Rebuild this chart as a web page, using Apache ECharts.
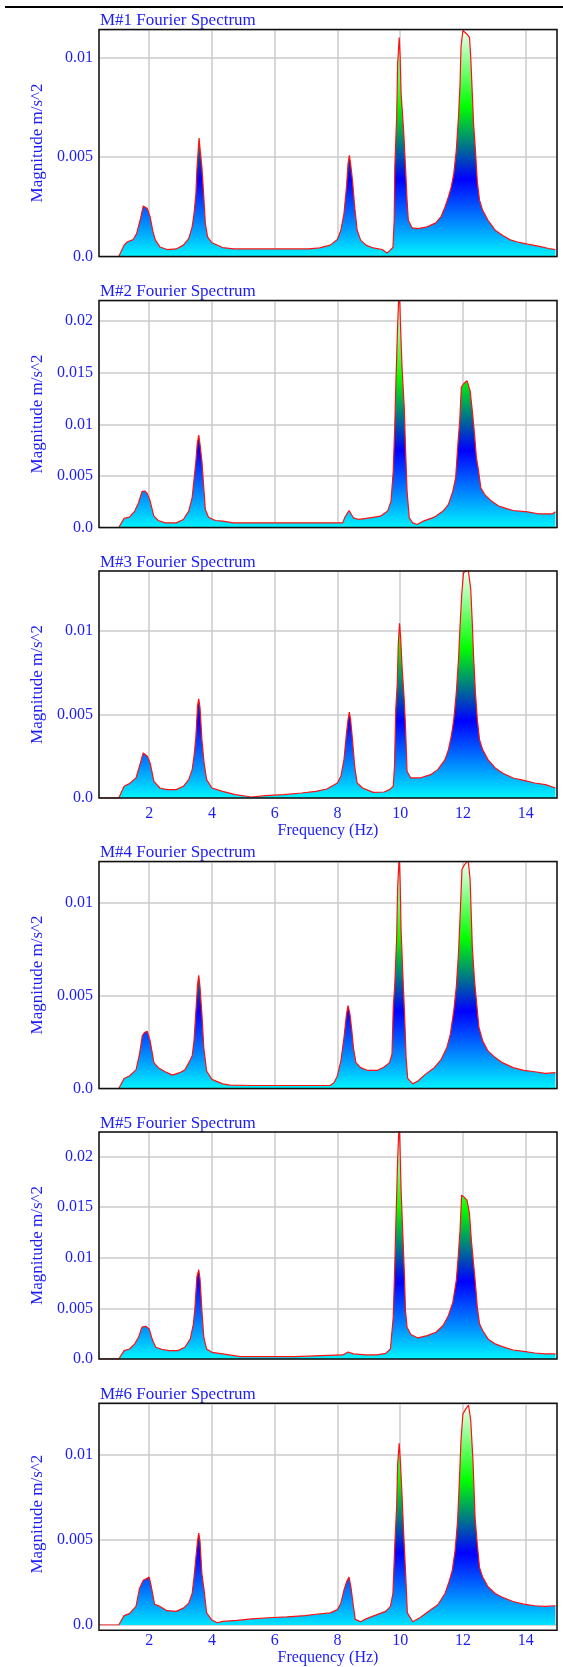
<!DOCTYPE html>
<html>
<head>
<meta charset="utf-8">
<script src="https://cdn.jsdelivr.net/npm/echarts@6/dist/echarts.min.js"></script>
<style>
html,body{margin:0;padding:0;background:#fff;}
#c{width:563px;height:1667px;}
</style>
</head>
<body>
<div id="c"></div>
<script>
// ---- data: [frequency Hz, magnitude m/s^2] ----
const titles = ['M#1 Fourier Spectrum','M#2 Fourier Spectrum','M#3 Fourier Spectrum','M#4 Fourier Spectrum','M#5 Fourier Spectrum','M#6 Fourier Spectrum'];
const yMaxes = [0.0114, 0.022, 0.0136, 0.0122, 0.0224, 0.013];
const xLabelPlots = [2, 5];

const m1 = [[0.4,0],[1.03,0],[1.2,0.00057],[1.31,0.00074],[1.49,0.00085],[1.6,0.00115],[1.71,0.00182],[1.81,0.00254],[1.94,0.00241],[2.03,0.00199],[2.11,0.00132],[2.19,0.00085],[2.34,0.00048],[2.57,0.00035],[2.86,0.00038],[3.09,0.00057],[3.26,0.0009],[3.37,0.00149],[3.43,0.00216],[3.49,0.00316],[3.52,0.00433],[3.57,0.0055],[3.59,0.00595],[3.62,0.00542],[3.68,0.0045],[3.74,0.003],[3.79,0.00166],[3.86,0.00099],[4.0,0.00069],[4.34,0.00045],[4.69,0.00038],[5.26,0.00038],[7.09,0.00038],[7.43,0.00043],[7.77,0.00057],[8.0,0.00085],[8.11,0.00132],[8.21,0.00216],[8.29,0.0035],[8.34,0.00467],[8.38,0.00508],[8.42,0.00467],[8.48,0.00383],[8.55,0.00249],[8.63,0.00132],[8.74,0.00082],[8.91,0.00057],[9.14,0.00043],[9.43,0.00035],[9.58,0.00018],[9.66,0.00028],[9.77,0.00045],[9.81,0.00182],[9.83,0.0045],[9.89,0.007],[9.92,0.00968],[9.97,0.011],[10.0,0.01],[10.03,0.00818],[10.11,0.00634],[10.17,0.0045],[10.22,0.00283],[10.26,0.00182],[10.38,0.00144],[10.57,0.0014],[10.86,0.00149],[11.14,0.00169],[11.31,0.00202],[11.43,0.00249],[11.54,0.003],[11.63,0.0035],[11.71,0.00416],[11.79,0.00533],[11.86,0.007],[11.91,0.00868],[11.94,0.01052],[12.0,0.01135],[12.11,0.0112],[12.21,0.011],[12.25,0.01],[12.3,0.00818],[12.34,0.00667],[12.4,0.00533],[12.46,0.00375],[12.53,0.00283],[12.63,0.00232],[12.8,0.00182],[13.03,0.00132],[13.26,0.00107],[13.49,0.00085],[13.71,0.00074],[14.06,0.00062],[14.4,0.00052],[14.74,0.0004],[14.95,0.00035]];

const m2 = [[0.4,0],[1.03,0],[1.2,0.00088],[1.37,0.001],[1.54,0.00159],[1.66,0.0024],[1.77,0.00347],[1.86,0.00354],[1.94,0.00328],[2.03,0.00256],[2.15,0.0011],[2.29,0.00068],[2.51,0.00045],[2.86,0.00045],[3.09,0.00078],[3.26,0.00159],[3.37,0.00289],[3.43,0.00467],[3.49,0.00645],[3.53,0.00807],[3.58,0.00895],[3.62,0.00807],[3.68,0.00645],[3.74,0.00386],[3.79,0.00175],[3.89,0.001],[4.11,0.00068],[4.34,0.00062],[4.69,0.00045],[8.17,0.00045],[8.23,0.00094],[8.37,0.00165],[8.51,0.00094],[8.69,0.00078],[9.03,0.00094],[9.37,0.0011],[9.6,0.00159],[9.71,0.00256],[9.78,0.00548],[9.83,0.01],[9.87,0.01456],[9.92,0.0196],[9.97,0.0235],[10.01,0.0197],[10.06,0.01553],[10.13,0.01164],[10.17,0.00775],[10.22,0.00353],[10.29,0.00094],[10.4,0.00045],[10.54,0.00029],[10.74,0.00062],[11.09,0.001],[11.37,0.00159],[11.54,0.00224],[11.68,0.00353],[11.77,0.00483],[11.84,0.00807],[11.9,0.01035],[11.95,0.01359],[12.02,0.01391],[12.13,0.01424],[12.23,0.01326],[12.3,0.01132],[12.37,0.00905],[12.43,0.00678],[12.5,0.00548],[12.57,0.00386],[12.69,0.00321],[12.91,0.00256],[13.14,0.00208],[13.37,0.00185],[13.6,0.00165],[14.06,0.00152],[14.4,0.00133],[14.86,0.00133],[14.95,0.00152]];

const m3 = [[0.4,0],[1.03,0],[1.2,0.0007],[1.37,0.00086],[1.58,0.0012],[1.69,0.0019],[1.81,0.0027],[1.94,0.0025],[2.03,0.0021],[2.15,0.001],[2.34,0.0006],[2.57,0.0005],[2.86,0.0005],[3.09,0.0007],[3.26,0.0011],[3.37,0.0017],[3.43,0.0025],[3.49,0.0037],[3.54,0.0055],[3.58,0.00594],[3.62,0.0054],[3.68,0.0035],[3.75,0.0021],[3.83,0.0011],[4.0,0.0006],[4.34,0.0004],[4.74,0.0002],[5.26,0.00006],[5.71,0.00014],[6.29,0.0002],[6.86,0.0003],[7.31,0.0004],[7.66,0.00054],[8.0,0.0009],[8.11,0.0013],[8.21,0.0023],[8.29,0.0039],[8.34,0.0047],[8.38,0.00514],[8.42,0.0047],[8.48,0.0035],[8.55,0.0019],[8.63,0.0009],[8.8,0.0006],[9.14,0.00034],[9.49,0.00036],[9.66,0.0005],[9.78,0.0007],[9.82,0.0019],[9.86,0.0053],[9.91,0.0069],[9.94,0.0092],[9.98,0.01046],[10.02,0.0095],[10.06,0.0079],[10.13,0.0059],[10.17,0.0043],[10.22,0.0016],[10.34,0.0012],[10.63,0.0012],[10.97,0.0014],[11.2,0.0017],[11.43,0.0023],[11.54,0.0029],[11.63,0.0037],[11.71,0.0047],[11.79,0.0063],[11.86,0.0083],[11.91,0.0103],[11.96,0.0121],[12.02,0.0135],[12.17,0.0137],[12.25,0.0125],[12.3,0.0105],[12.34,0.0085],[12.4,0.0063],[12.46,0.0047],[12.53,0.0035],[12.63,0.0029],[12.8,0.0023],[13.03,0.0018],[13.26,0.0015],[13.6,0.0012],[13.94,0.00106],[14.29,0.0009],[14.63,0.0008],[14.95,0.0006]];

const m4 = [[0.4,0],[1.03,0],[1.2,0.00054],[1.37,0.00067],[1.58,0.001],[1.69,0.00184],[1.78,0.00283],[1.85,0.00301],[1.94,0.00307],[2.03,0.00256],[2.15,0.00139],[2.29,0.00112],[2.51,0.0009],[2.74,0.00072],[2.97,0.00085],[3.14,0.001],[3.29,0.00148],[3.37,0.00175],[3.43,0.00256],[3.49,0.00419],[3.54,0.00554],[3.58,0.00608],[3.62,0.00545],[3.68,0.004],[3.74,0.0022],[3.83,0.00094],[4.0,0.00049],[4.34,0.00025],[4.57,0.00018],[5.26,0.00016],[7.77,0.00016],[7.89,0.00031],[8.0,0.00067],[8.11,0.00148],[8.21,0.00274],[8.29,0.004],[8.34,0.00446],[8.4,0.004],[8.46,0.0031],[8.51,0.0022],[8.59,0.00139],[8.74,0.00112],[8.97,0.00097],[9.26,0.00097],[9.49,0.00116],[9.66,0.00139],[9.74,0.00184],[9.78,0.00437],[9.83,0.00563],[9.89,0.00816],[9.92,0.01078],[9.97,0.0125],[10.0,0.011],[10.03,0.00852],[10.08,0.00635],[10.14,0.004],[10.19,0.00166],[10.24,0.00054],[10.4,0.00025],[10.57,0.0004],[10.8,0.00076],[11.09,0.00112],[11.31,0.00157],[11.49,0.0022],[11.6,0.00292],[11.71,0.00419],[11.79,0.00545],[11.86,0.00726],[11.92,0.0096],[11.97,0.01177],[12.04,0.012],[12.17,0.01225],[12.23,0.01123],[12.3,0.00762],[12.37,0.00581],[12.43,0.00473],[12.51,0.00329],[12.63,0.00256],[12.8,0.00202],[13.03,0.00166],[13.26,0.00139],[13.6,0.00112],[13.94,0.00097],[14.29,0.0009],[14.63,0.00081],[14.95,0.00085]];

const m5 = [[0.4,0],[1.03,0],[1.2,0.00083],[1.37,0.00099],[1.54,0.00149],[1.66,0.00215],[1.77,0.00314],[1.89,0.00323],[2.0,0.00297],[2.11,0.00182],[2.21,0.00116],[2.4,0.00096],[2.63,0.00083],[2.91,0.00083],[3.14,0.00116],[3.31,0.00198],[3.41,0.00347],[3.46,0.00512],[3.52,0.00809],[3.58,0.00881],[3.62,0.00792],[3.68,0.00479],[3.74,0.00215],[3.83,0.00099],[4.0,0.00066],[4.34,0.0005],[4.91,0.00023],[6.63,0.00023],[6.69,0.0004],[8.17,0.0004],[8.34,0.00069],[8.51,0.0005],[8.91,0.0004],[9.26,0.0004],[9.54,0.00056],[9.69,0.00099],[9.78,0.00413],[9.83,0.0094],[9.87,0.014],[9.92,0.01964],[9.97,0.0235],[10.0,0.0203],[10.03,0.01667],[10.08,0.01271],[10.13,0.00875],[10.17,0.0048],[10.22,0.00314],[10.34,0.00241],[10.57,0.00208],[10.86,0.00231],[11.14,0.00264],[11.37,0.0033],[11.54,0.00429],[11.68,0.00561],[11.79,0.00776],[11.85,0.01007],[11.91,0.01271],[11.96,0.01617],[12.03,0.016],[12.13,0.01568],[12.21,0.01436],[12.27,0.01172],[12.34,0.0094],[12.4,0.00743],[12.46,0.00512],[12.53,0.00347],[12.63,0.00281],[12.8,0.00198],[13.03,0.00149],[13.26,0.00122],[13.6,0.00089],[13.94,0.00076],[14.29,0.00059],[14.63,0.0005],[14.95,0.0005]];

const m6 = [[0.4,0],[1.03,0],[1.2,0.00055],[1.37,0.00067],[1.58,0.00109],[1.69,0.00214],[1.81,0.00262],[1.92,0.00272],[2.0,0.00281],[2.06,0.00233],[2.17,0.00122],[2.34,0.00109],[2.57,0.00084],[2.86,0.0008],[3.09,0.00099],[3.26,0.00128],[3.37,0.00185],[3.43,0.00281],[3.49,0.00396],[3.54,0.00491],[3.58,0.00539],[3.62,0.00491],[3.68,0.003],[3.75,0.00205],[3.83,0.00071],[4.0,0.00029],[4.17,0.00013],[4.34,0.00021],[4.8,0.00027],[5.26,0.00036],[5.94,0.00044],[6.4,0.00048],[6.97,0.00055],[7.31,0.00063],[7.77,0.00071],[8.0,0.0009],[8.11,0.00128],[8.21,0.00205],[8.29,0.00252],[8.37,0.00281],[8.43,0.00224],[8.51,0.00109],[8.57,0.00033],[8.74,0.00019],[8.91,0.00036],[9.26,0.00061],[9.54,0.0008],[9.69,0.00109],[9.77,0.00185],[9.83,0.00472],[9.89,0.00702],[9.92,0.00941],[9.97,0.01065],[10.01,0.0095],[10.06,0.00759],[10.11,0.00549],[10.17,0.00319],[10.23,0.00071],[10.4,0.00019],[10.63,0.00042],[10.91,0.0008],[11.2,0.00119],[11.43,0.00185],[11.54,0.00243],[11.66,0.00319],[11.75,0.00434],[11.83,0.00606],[11.89,0.00855],[11.94,0.01084],[12.0,0.01237],[12.09,0.01266],[12.18,0.0129],[12.25,0.01199],[12.32,0.00969],[12.39,0.00625],[12.46,0.00472],[12.53,0.00338],[12.63,0.00281],[12.8,0.00224],[13.03,0.00185],[13.26,0.00163],[13.6,0.00138],[13.94,0.00122],[14.29,0.00113],[14.63,0.00109],[14.95,0.00113]];

const spectra = [m1, m2, m3, m4, m5, m6];

// ---- layout / style ----
const TOPS = [29.5, 300.5, 571, 861.5, 1132, 1403.3];
const GL = 99, GW = 458, GH = 227;
const BLUE = '#1c1cf5';
const SERIF = '"Liberation Serif", "Times New Roman", serif';

const chart = echarts.init(document.getElementById('c'), null, {renderer: 'canvas', width: 563, height: 1667});

function yFmt(v) {
  const r = Math.round(v / 0.005);
  if (Math.abs(v - r * 0.005) > 1e-9) return '';
  if (r === 0) return '0.0';
  return String(parseFloat(v.toFixed(4)));
}

const grids = [], xAxes = [], yAxes = [], series = [], titleComps = [], graphics = [];
graphics.push({type: 'rect', shape: {x: 5, y: 6, width: 558, height: 2}, style: {fill: '#000'}, z: 100, silent: true});

spectra.forEach((data, i) => {
  const t = TOPS[i];
  const showX = xLabelPlots.indexOf(i) >= 0;
  grids.push({left: GL, top: t, width: GW, height: GH, show: false});
  xAxes.push({
    type: 'value', gridIndex: i, min: 0.4, max: 15, splitNumber: 7,
    axisLine: {show: false}, axisTick: {show: false},
    axisLabel: {show: showX, showMinLabel: false, showMaxLabel: false, color: BLUE, fontFamily: SERIF, fontSize: 16, margin: 8},
    splitLine: {show: true, lineStyle: {color: '#cbcbcb', width: 1.5}},
    name: showX ? 'Frequency (Hz)' : '', nameLocation: 'middle', nameGap: 25,
    nameTextStyle: {color: BLUE, fontFamily: SERIF, fontSize: 16}
  });
  yAxes.push({
    type: 'value', gridIndex: i, min: 0, max: yMaxes[i], interval: 0.005,
    axisLine: {show: false}, axisTick: {show: false},
    axisLabel: {showMaxLabel: false, formatter: yFmt, color: BLUE, fontFamily: SERIF, fontSize: 16, margin: 6},
    splitLine: {show: true, lineStyle: {color: '#cbcbcb', width: 1.5}},
    name: 'Magnitude m/s^2', nameLocation: 'middle', nameGap: 52, nameRotate: 90,
    nameTextStyle: {color: BLUE, fontFamily: SERIF, fontSize: 17}
  });
  series.push({
    type: 'line', xAxisIndex: i, yAxisIndex: i, data: data,
    symbol: 'none', showSymbol: false, clip: true, animation: false,
    lineStyle: {color: '#ff1010', width: 1.2},
    areaStyle: {
      opacity: 1,
      color: new echarts.graphic.LinearGradient(0, t, 0, t + GH, [
        {offset: 0, color: '#f4fff4'},
        {offset: 0.34, color: '#00ff00'},
        {offset: 0.66, color: '#0000ff'},
        {offset: 1, color: '#00f4ff'}
      ], true)
    }
  });
  titleComps.push({
    text: titles[i], left: 100, top: t - 17, padding: 0,
    textStyle: {color: BLUE, fontFamily: SERIF, fontSize: 17, fontWeight: 'normal'}
  });
  graphics.push({type: 'rect', shape: {x: GL, y: t, width: GW, height: GH},
    style: {fill: 'none', stroke: '#111', lineWidth: 1.5}, z: 100, silent: true});
});

chart.setOption({
  animation: false,
  backgroundColor: '#ffffff',
  title: titleComps,
  grid: grids, xAxis: xAxes, yAxis: yAxes, series: series,
  graphic: graphics
});
</script>
</body>
</html>
